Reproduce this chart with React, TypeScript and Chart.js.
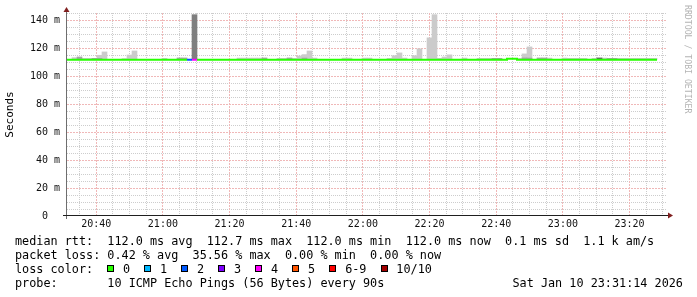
import React, { useEffect, useRef } from 'react';
import { Chart, registerables } from 'chart.js';

Chart.register(...registerables);

// ---------- data ----------
const START_TIME = '20:31:14';
const SPAN_MINUTES = 180;
const STEP_MINUTES = 1.5; // one probe round every 90 s

const xTickLabels = ['20:40', '21:00', '21:20', '21:40', '22:00', '22:20', '22:40', '23:00', '23:20'];
const yTickValues = [0, 20, 40, 60, 80, 100, 120, 140];
const yTickLabels = ['0', '20 m', '40 m', '60 m', '80 m', '100 m', '120 m', '140 m'];

// median rtt per 90 s round (ms)
const medianRtt = [
  112.0, 112.0, 112.0, 112.0, 112.0, 112.0, 112.0, 112.0, 112.0, 112.0,
  112.0, 112.0, 112.0, 112.0, 112.0, 112.0, 112.0, 112.0, 112.0, 112.0,
  112.0, 112.0, 112.0, 112.0, 112.0, 112.0, 112.0, 112.0, 112.0, 112.0,
  112.0, 112.0, 112.0, 112.0, 112.0, 112.0, 112.0, 112.0, 112.0, 112.0,
  112.0, 112.0, 112.0, 112.0, 112.0, 112.0, 112.0, 112.0, 112.0, 112.0,
  112.0, 112.0, 112.0, 112.0, 112.0, 112.0, 112.0, 112.0, 112.0, 112.0,
  112.0, 112.0, 112.0, 112.0, 112.0, 112.0, 112.0, 112.0, 112.0, 112.0,
  112.0, 112.0, 112.0, 112.0, 112.0, 112.0, 112.0, 112.0, 112.0, 112.0,
  112.0, 112.0, 112.0, 112.0, 112.0, 112.0, 112.0, 112.0, 112.7, 112.7,
  112.0, 112.0, 112.0, 112.0, 112.0, 112.0, 112.0, 112.0, 112.0, 112.0,
  112.0, 112.0, 112.0, 112.0, 112.0, 112.0, 112.0, 112.0, 112.0, 112.0,
  112.0, 112.0, 112.0, 112.0, 112.0, 112.0, 112.0, 112.0,
];

// lost pings (of 10) per round
const lostPings = [
  0, 0, 0, 0, 0, 0, 0, 0, 0, 0,
  0, 0, 0, 0, 0, 0, 0, 0, 0, 0,
  0, 0, 0, 0, 2, 4, 0, 0, 0, 0,
  0, 0, 0, 0, 0, 0, 0, 0, 0, 0,
  0, 0, 0, 0, 0, 0, 0, 0, 0, 0,
  0, 0, 0, 0, 0, 0, 0, 0, 0, 0,
  0, 0, 0, 0, 0, 0, 0, 0, 0, 0,
  0, 0, 0, 0, 0, 0, 0, 0, 0, 0,
  0, 0, 0, 0, 0, 0, 0, 0, 0, 0,
  0, 0, 0, 0, 0, 0, 0, 0, 0, 0,
  0, 0, 0, 0, 0, 0, 0, 0, 0, 0,
  0, 0, 0, 0, 0, 0, 0, 0,
];

// outer (light) smoke top per round (ms), null = none visible
const smokeOuterTop = [
  null, 113.5, null, 113, 113, null, 115.2, 117.6, null, null,
  null, 112.8, 115.4, 118.3, null, null, null, null, null, 113,
  null, null, null, null, null, null, null, null, null, null,
  null, null, null, null, 113.2, 113.2, 113.2, 113.2, 113.2, null,
  null, null, 113, 113, null, 113, 114.7, 115.7, 118.3, 113.2,
  null, null, null, null, null, 113.2, 113.2, null, null, 113.2,
  113.2, null, null, null, 113, 114.9, 116.9, 113.2, null, 114.9,
  119.8, null, 127.7, 144.3, 113, 114, 115.5, null, null, 113.2,
  null, null, 113, 113, 113, null, null, null, null, null,
  113, 116.2, 121.2, null, null, null, 113.2, null, null, 113.2,
  113, 113, 113, 113, null, 113, null, 113.2, null, null,
  113, 113, 113, 113, 113, 113, 113, 113,
];

// inner (dark) smoke top per round (ms), null = none visible
const smokeInnerTop = [
  null, null, 114, null, null, 113, 113, null, null, null,
  null, null, null, null, null, null, null, null, null, null,
  null, null, 113.3, 113.3, null, 144.3, null, null, null, null,
  null, null, null, null, null, null, null, null, null, 113.3,
  null, null, null, null, 113.3, null, null, 113.2, null, null,
  null, null, null, null, null, null, null, null, null, null,
  null, null, null, null, null, null, null, null, null, null,
  null, null, null, null, null, null, null, null, null, null,
  null, null, null, null, null, 113, 113, null, null, null,
  null, 113.3, 113.2, null, 113.3, 113.3, null, null, null, null,
  null, null, null, null, null, null, 113.3, null, 113, 113,
  null, null, null, null, null, null, null, null,
];

const rttStats = ['112.0 ms avg', '112.7 ms max', '112.0 ms min', '112.0 ms now', '0.1 ms sd', '1.1 k am/s'];
const lossStats = ['0.42 % avg', '35.56 % max', '0.00 % min', '0.00 % now'];
const lossLegendLabels = ['0', '1', '2', '3', '4', '5', '6-9', '10/10'];
const probeText = '10 ICMP Echo Pings (56 Bytes) every 90s';
const dateText = 'Sat Jan 10 23:31:14 2026';

// ---------- styles ----------
const MONO = '"DejaVu Sans Mono", "Liberation Mono", monospace';
const lossLegendColors = ['#26ff00', '#00b8ff', '#0059ff', '#7e00ff', '#ff00ff', '#ff5500', '#ff0000', '#a10000'];
const lossLineColor = (n: number) =>
  n === 0 ? lossLegendColors[0]
  : n <= 5 ? lossLegendColors[n]
  : n < 10 ? lossLegendColors[6]
  : lossLegendColors[7];
const OUTER_SMOKE = '#cbcbcb';
const INNER_SMOKE = '#a4a4a4';
const innerShadeOverride: Record<number, string> = { 25: '#7f7f7f', 106: '#5e5e5e' };
const MAJOR_GRID = '#f0b8b8';
const MINOR_GRID = '#cdcdcd';

const [sh, sm, ss] = START_TIME.split(':').map(Number);
const startMinOfDay = sh * 60 + sm + ss / 60;
const clock = (v: number) => {
  const t = Math.round(startMinOfDay + v);
  const hh = Math.floor(t / 60) % 24;
  const mm = t % 60;
  return `${String(hh).padStart(2, '0')}:${String(mm).padStart(2, '0')}`;
};
const isMajorX = (v: number) => xTickLabels.includes(clock(v));

// dotted rrdtool-style grid drawn from the scales' ticks
const gridPlugin = {
  id: 'rrdGrid',
  beforeDatasetsDraw(chart: any) {
    const { ctx, chartArea, scales } = chart;
    const { left, right, top, bottom } = chartArea;
    const xs = scales.x;
    const ys = scales.y;
    ctx.save();
    // on = dot length, period = dot + gap
    const vLine = (value: number, color: string, on: number, period: number) => {
      const px = Math.round(xs.getPixelForValue(value) - 0.5);
      ctx.fillStyle = color;
      for (let yy = Math.round(top); yy < bottom - 1; yy += period) ctx.fillRect(px, yy, 1, Math.min(on, bottom - 1 - yy));
    };
    const hLine = (value: number, color: string, on: number, period: number) => {
      const py = Math.round(ys.getPixelForValue(value) - 0.5);
      ctx.fillStyle = color;
      for (let xx = Math.round(left); xx < right; xx += period) ctx.fillRect(xx, py, Math.min(on, right - xx), 1);
    };
    ys.ticks.forEach((t: any) => { if (t.value > 0 && t.value % 20 !== 0) hLine(t.value, MINOR_GRID, 1, 2); });
    xs.ticks.forEach((t: any) => { if (!isMajorX(t.value)) vLine(t.value, MINOR_GRID, 1, 2); });
    ys.ticks.forEach((t: any) => { if (t.value > 0 && t.value % 20 === 0) hLine(t.value, MAJOR_GRID, 2, 3); });
    xs.ticks.forEach((t: any) => { if (isMajorX(t.value)) vLine(t.value, MAJOR_GRID, 2, 3); });
    ctx.restore();
  },
};

const axesPlugin = {
  id: 'rrdAxes',
  afterDatasetsDraw(chart: any) {
    const { ctx, chartArea } = chart;
    const { left, right, top, bottom } = chartArea;
    ctx.save();
    ctx.lineWidth = 1;
    // y axis
    ctx.strokeStyle = '#6e6e6e';
    ctx.beginPath();
    ctx.moveTo(left - 0.5, top - 2);
    ctx.lineTo(left - 0.5, bottom + 3);
    ctx.stroke();
    // x axis
    ctx.strokeStyle = '#1f1f1f';
    ctx.beginPath();
    ctx.moveTo(left - 4, bottom - 0.5);
    ctx.lineTo(right + 2, bottom - 0.5);
    ctx.stroke();
    // arrows
    ctx.fillStyle = '#801f1f';
    ctx.beginPath();
    ctx.moveTo(left - 0.5, top - 6);
    ctx.lineTo(left - 3.5, top - 1);
    ctx.lineTo(left + 2.5, top - 1);
    ctx.closePath();
    ctx.fill();
    ctx.beginPath();
    ctx.moveTo(right + 6, bottom - 0.5);
    ctx.lineTo(right + 1, bottom - 3.5);
    ctx.lineTo(right + 1, bottom + 2.5);
    ctx.closePath();
    ctx.fill();
    ctx.restore();
  },
};

export default function App() {
  const ref = useRef<HTMLCanvasElement>(null);

  useEffect(() => {
    document.body.style.margin = '0';
    const n = medianRtt.length;
    const lineData = medianRtt.map((m, k) => ({ x: k * STEP_MINUTES, y: m }));
    lineData.push({ x: n * STEP_MINUTES, y: medianRtt[n - 1] });

    const outerData: any[] = [];
    smokeOuterTop.forEach((top, k) => {
      if (top != null) outerData.push({ x: (k + 0.5) * STEP_MINUTES, y: [medianRtt[k], top], k });
    });
    const innerData: any[] = [];
    smokeInnerTop.forEach((top, k) => {
      if (top != null) innerData.push({ x: (k + 0.5) * STEP_MINUTES, y: [medianRtt[k], top], k });
    });

    const chart = new Chart(ref.current as HTMLCanvasElement, {
      type: 'bar',
      data: {
        datasets: [
          {
            type: 'line',
            label: 'median rtt',
            data: lineData,
            order: 0,
            stepped: true,
            borderWidth: 2,
            borderColor: lossLegendColors[0],
            pointRadius: 0,
            fill: false,
            segment: {
              borderColor: (c: any) => lossLineColor(lostPings[Math.min(c.p0DataIndex, n - 1)]),
            },
          } as any,
          {
            type: 'bar',
            label: 'inner smoke',
            data: innerData,
            order: 1,
            grouped: false,
            barPercentage: 1,
            categoryPercentage: 1,
            borderWidth: 0,
            backgroundColor: (c: any) => (c.raw && innerShadeOverride[c.raw.k]) || INNER_SMOKE,
          } as any,
          {
            type: 'bar',
            label: 'outer smoke',
            data: outerData,
            order: 2,
            grouped: false,
            barPercentage: 1,
            categoryPercentage: 1,
            borderWidth: 0,
            backgroundColor: OUTER_SMOKE,
          } as any,
        ],
      },
      options: {
        animation: false,
        responsive: false,
        maintainAspectRatio: false,
        devicePixelRatio: 1,
        events: [],
        layout: { padding: { top: 13, right: 30, left: 0, bottom: 0 } },
        plugins: { legend: { display: false }, tooltip: { enabled: false } },
        scales: {
          x: {
            type: 'linear',
            min: 0,
            max: SPAN_MINUTES,
            offset: false,
            border: { display: false },
            grid: { display: false, offset: false, drawTicks: false },
            afterBuildTicks: (s: any) => {
              const first = Math.ceil(startMinOfDay / 5) * 5 - startMinOfDay;
              const ticks = [];
              for (let t = first; t <= SPAN_MINUTES; t += 5) ticks.push({ value: t });
              s.ticks = ticks;
            },
            afterFit: (s: any) => { s.height = 81; },
            ticks: {
              autoSkip: false,
              maxRotation: 0,
              minRotation: 0,
              padding: 2,
              color: '#111',
              font: { family: MONO, size: 10 },
              callback: (v: any) => (isMajorX(Number(v)) ? clock(Number(v)) : ''),
            },
          },
          y: {
            min: 0,
            max: 145.5,
            border: { display: false },
            grid: { display: false, drawTicks: false },
            afterBuildTicks: (s: any) => {
              const ticks = [];
              for (let v = 0; v <= 145; v += 5) ticks.push({ value: v });
              s.ticks = ticks;
            },
            afterFit: (s: any) => { s.width = 67; },
            title: {
              display: true,
              text: 'Seconds',
              color: '#000',
              font: { family: MONO, size: 11 },
              padding: { top: 4, bottom: 0 },
            },
            ticks: {
              autoSkip: false,
              padding: 7,
              color: '#111',
              font: { family: MONO, size: 10 },
              callback: (v: any) => {
                const i = yTickValues.indexOf(Number(v));
                if (i < 0) return '';
                return Number(v) === 0 ? yTickLabels[i] + '  ' : yTickLabels[i];
              },
            },
          },
        },
      },
      plugins: [gridPlugin, axesPlugin],
    } as any);
    return () => chart.destroy();
  }, []);

  const textStyle: React.CSSProperties = {
    position: 'absolute',
    left: 15,
    top: 234,
    font: `11.8px ${MONO}`,
    lineHeight: '14px',
    whiteSpace: 'pre',
    color: '#000',
  };

  return (
    <div style={{ position: 'relative', width: 697, height: 297, background: '#fff', overflow: 'hidden' }}>
      <canvas ref={ref} width={697} height={297} style={{ position: 'absolute', left: 0, top: 0, width: 697, height: 297 }} />
      <div style={textStyle}>
        <div>{'median rtt:  ' + rttStats.join('  ')}</div>
        <div>{'packet loss: ' + lossStats.join('  ')}</div>
        <div>
          {'loss color:  '}
          {lossLegendLabels.map((lab, i) => (
            <React.Fragment key={lab}>
              <span
                style={{
                  display: 'inline-block',
                  width: 7,
                  height: 7,
                  boxSizing: 'border-box',
                  border: '1px solid #000',
                  background: lossLegendColors[i],
                  marginRight: 1.6,
                  position: 'relative',
                  top: -1,
                }}
              />
              {' ' + lab + '  '}
            </React.Fragment>
          ))}
        </div>
        <div>{'probe:       ' + probeText}</div>
      </div>
      <div style={{ ...textStyle, left: 512.5, top: 276 }}>{dateText}</div>
      <div
        style={{
          position: 'absolute',
          left: 683,
          top: 5,
          writingMode: 'vertical-rl',
          font: `8.2px ${MONO}`,
          color: '#b4b4b4',
          whiteSpace: 'pre',
        }}
      >
        RRDTOOL / TOBI OETIKER
      </div>
    </div>
  );
}
